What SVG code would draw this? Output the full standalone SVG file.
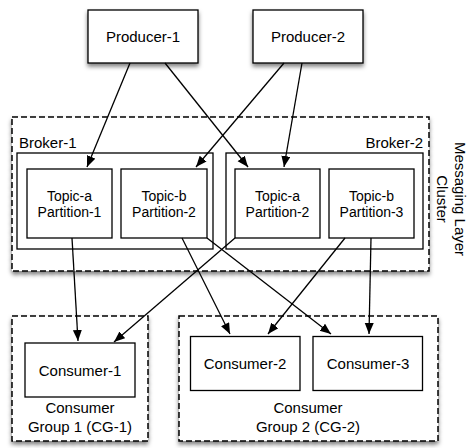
<svg xmlns="http://www.w3.org/2000/svg" width="467" height="448" viewBox="0 0 467 448">
  <style>
    text { font-family: "Liberation Sans", Arial, sans-serif; font-size: 15px; fill: #000; }
    .c { text-anchor: middle; }
    .t { font-size: 14px; }
    .box { fill: #fff; stroke: #000; stroke-width: 1.3; }
    .dash { fill: #fff; stroke: #000; stroke-width: 1.5; stroke-dasharray: 6 3; }
    .edge { fill: none; stroke: #000; stroke-width: 1.3; marker-end: url(#arrow); }
  </style>
  <defs>
    <filter id="shadow" x="-10%" y="-10%" width="125%" height="130%">
      <feDropShadow dx="0" dy="3" stdDeviation="2" flood-color="#000" flood-opacity="0.5"/>
    </filter>
    <marker id="arrow" markerUnits="userSpaceOnUse" markerWidth="12" markerHeight="10" refX="11" refY="4.5" orient="auto">
      <path d="M0,0 L11,4.5 L0,9 z" fill="#000"/>
    </marker>
  </defs>

  <g id="cluster">
    <rect class="dash" x="12" y="117" width="417" height="154" filter="url(#shadow)"/>
    <g transform="translate(454.5,199) rotate(90)">
      <text class="c" x="0" y="0">Messaging Layer</text>
      <text class="c" x="0" y="18">Cluster</text>
    </g>
  </g>
  <g id="broker-1">
    <rect class="box" x="17" y="153" width="196" height="96"/>
    <text x="19" y="148">Broker-1</text>
  </g>
  <g id="broker-2">
    <rect class="box" x="226" y="153" width="197" height="96"/>
    <text x="423" y="148" text-anchor="end">Broker-2</text>
  </g>

  <g id="cg-1">
    <rect class="dash" x="12" y="316" width="136" height="125" filter="url(#shadow)"/>
    <text class="c" x="80" y="413">Consumer</text>
    <text class="c" x="80" y="431.5">Group 1 (CG-1)</text>
  </g>
  <g id="cg-2">
    <rect class="dash" x="179" y="316" width="259" height="125" filter="url(#shadow)"/>
    <text class="c" x="308" y="413">Consumer</text>
    <text class="c" x="308" y="431.5">Group 2 (CG-2)</text>
  </g>

  <g id="producer-1">
    <rect class="box" x="88" y="10" width="110" height="53" filter="url(#shadow)"/>
    <text class="c" x="143" y="42">Producer-1</text>
  </g>
  <g id="producer-2">
    <rect class="box" x="253" y="10" width="110" height="53" filter="url(#shadow)"/>
    <text class="c" x="308" y="42">Producer-2</text>
  </g>

  <g id="b1-topic-a-p1">
    <rect class="box" x="27" y="169" width="85" height="69"/>
    <text class="c t" x="69.5" y="201">Topic-a</text>
    <text class="c t" x="69.5" y="217">Partition-1</text>
  </g>
  <g id="b1-topic-b-p2">
    <rect class="box" x="121" y="169" width="86" height="69"/>
    <text class="c t" x="164" y="201">Topic-b</text>
    <text class="c t" x="164" y="217">Partition-2</text>
  </g>
  <g id="b2-topic-a-p2">
    <rect class="box" x="235" y="169" width="85" height="69"/>
    <text class="c t" x="277.5" y="201">Topic-a</text>
    <text class="c t" x="277.5" y="217">Partition-2</text>
  </g>
  <g id="b2-topic-b-p3">
    <rect class="box" x="329" y="169" width="85" height="69"/>
    <text class="c t" x="371.5" y="201">Topic-b</text>
    <text class="c t" x="371.5" y="217">Partition-3</text>
  </g>

  <g id="consumer-1">
    <rect class="box" x="25" y="343" width="110" height="54"/>
    <text class="c" x="80" y="375.5">Consumer-1</text>
  </g>
  <g id="consumer-2">
    <rect class="box" x="190.5" y="336.5" width="109.5" height="54"/>
    <text class="c" x="245" y="368.5">Consumer-2</text>
  </g>
  <g id="consumer-3">
    <rect class="box" x="313" y="336.5" width="109.5" height="54"/>
    <text class="c" x="368" y="368.5">Consumer-3</text>
  </g>

  <g id="connectors">
    <line class="edge" x1="130" y1="63" x2="87" y2="167"/>
    <line class="edge" x1="165" y1="63" x2="248" y2="167"/>
    <line class="edge" x1="284" y1="63" x2="196" y2="167"/>
    <line class="edge" x1="302" y1="63" x2="284" y2="167"/>
    <line class="edge" x1="72" y1="238" x2="78" y2="341"/>
    <line class="edge" x1="235" y1="238" x2="114" y2="342"/>
    <line class="edge" x1="182" y1="238" x2="230" y2="334"/>
    <line class="edge" x1="207" y1="238" x2="331" y2="334"/>
    <line class="edge" x1="345" y1="238" x2="268" y2="334"/>
    <line class="edge" x1="371" y1="238" x2="369" y2="334"/>
  </g>
</svg>
